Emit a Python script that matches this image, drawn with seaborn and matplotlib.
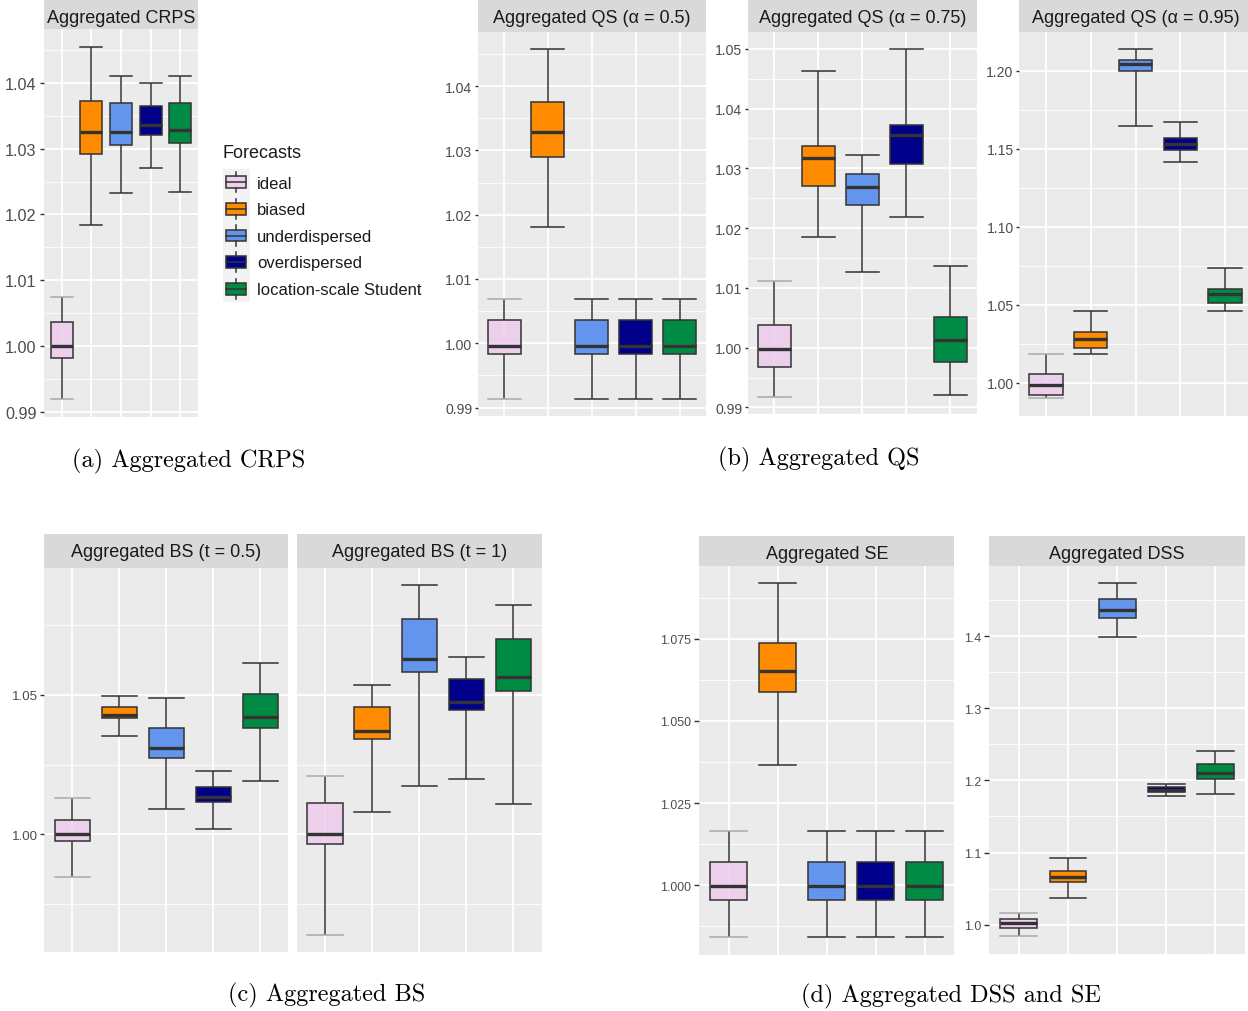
import numpy as np
import pandas as pd
import matplotlib
matplotlib.use("Agg")
import matplotlib.pyplot as plt
import seaborn as sns
from matplotlib.patches import Rectangle, Patch
from matplotlib.lines import Line2D
from matplotlib.legend_handler import HandlerBase
from matplotlib.ticker import MultipleLocator, FormatStrFormatter
from matplotlib.colors import to_rgba

plt.rcParams["font.family"] = ["Liberation Sans", "DejaVu Sans"]

forecasts = ["ideal", "biased", "underdispersed", "overdispersed", "location-scale Student"]
fill_colors = ["#ECC9EC", "#FF8C00", "#6495ED", "#00008B", "#008B45"]

# Five-number summaries per forecast:
# lower whisker, Q1, median, Q3, upper whisker
crps = [
    [0.9919, 0.9982, 1.0000, 1.0036, 1.0074],
    [1.0184, 1.0292, 1.0326, 1.0373, 1.0455],
    [1.0232, 1.0305, 1.0325, 1.0369, 1.0410],
    [1.0270, 1.0320, 1.0336, 1.0365, 1.0399],
    [1.0234, 1.0308, 1.0328, 1.0370, 1.0411],
]
qs_050 = [
    [0.9914, 0.9983, 0.9996, 1.0036, 1.0069],
    [1.0181, 1.0289, 1.0328, 1.0376, 1.0457],
    [0.9914, 0.9983, 0.9996, 1.0036, 1.0069],
    [0.9914, 0.9983, 0.9996, 1.0036, 1.0069],
    [0.9914, 0.9983, 0.9996, 1.0036, 1.0069],
]
qs_075 = [
    [0.9918, 0.9967, 0.9998, 1.0038, 1.0111],
    [1.0185, 1.0271, 1.0318, 1.0338, 1.0462],
    [1.0127, 1.0238, 1.0268, 1.0290, 1.0322],
    [1.0218, 1.0307, 1.0356, 1.0372, 1.0499],
    [0.9921, 0.9976, 1.0012, 1.0051, 1.0136],
]
qs_095 = [
    [0.9902, 0.9921, 0.9985, 1.0055, 1.0188],
    [1.0183, 1.0224, 1.0284, 1.0327, 1.0463],
    [1.1647, 1.1997, 1.2042, 1.2068, 1.2136],
    [1.1412, 1.1494, 1.1528, 1.1568, 1.1671],
    [1.0458, 1.0514, 1.0567, 1.0604, 1.0736],
]
bs_05 = [
    [0.9847, 0.9975, 1.0001, 1.0053, 1.0130],
    [1.0353, 1.0417, 1.0428, 1.0456, 1.0495],
    [1.0090, 1.0272, 1.0308, 1.0382, 1.0490],
    [1.0020, 1.0116, 1.0134, 1.0171, 1.0226],
    [1.0191, 1.0382, 1.0420, 1.0501, 1.0613],
]
bs_1 = [
    [0.9641, 0.9965, 1.0002, 1.0112, 1.0209],
    [1.0081, 1.0340, 1.0370, 1.0456, 1.0536],
    [1.0172, 1.0581, 1.0629, 1.0770, 1.0891],
    [1.0198, 1.0445, 1.0474, 1.0558, 1.0634],
    [1.0110, 1.0514, 1.0562, 1.0700, 1.0821],
]
se = [
    [0.9842, 0.9956, 0.9999, 1.0070, 1.0165],
    [1.0366, 1.0589, 1.0652, 1.0738, 1.0918],
    [0.9842, 0.9956, 0.9999, 1.0070, 1.0165],
    [0.9842, 0.9956, 0.9999, 1.0070, 1.0165],
    [0.9842, 0.9956, 0.9999, 1.0070, 1.0165],
]
dss = [
    [0.9838, 0.9958, 1.0028, 1.0074, 1.0162],
    [1.0370, 1.0591, 1.0656, 1.0744, 1.0919],
    [1.3991, 1.4254, 1.4360, 1.4513, 1.4730],
    [1.1788, 1.1839, 1.1871, 1.1908, 1.1949],
    [1.1815, 1.2023, 1.2106, 1.2226, 1.2402],
]

W, H = 1248, 1012
fig = plt.figure(figsize=(W / 100, H / 100), dpi=100)
fig.patch.set_facecolor("white")

EDGE = "#333333"
PANEL_BG = "#EBEBEB"
PT = 0.72  # points per pixel at 100 dpi


def px_axes(x0, y0, x1, y1):
    return fig.add_axes([x0 / W, 1 - y1 / H, (x1 - x0) / W, (y1 - y0) / H])


def strip(x0, y0, x1, y1, label, baseline):
    sax = px_axes(x0, y0, x1, y1)
    sax.set_facecolor("#D9D9D9")
    sax.set_xticks([])
    sax.set_yticks([])
    for s in sax.spines.values():
        s.set_visible(False)
    fig.text((x0 + x1) / 2 / W, 1 - baseline / H, label, ha="center",
             va="baseline", fontsize=13, color="#1A1A1A")


def padded_range(*groups):
    vals = np.concatenate([np.concatenate(g) for g in groups])
    lo, hi = vals.min(), vals.max()
    r = hi - lo
    return lo - 0.05 * r, hi + 0.05 * r


def draw_boxes(ax, summaries, ylim, major, fmt, labelsize, ticklen, pad,
               show_labels=True):
    df = pd.DataFrame({
        "forecast": np.repeat(forecasts, 5),
        "value": np.concatenate(summaries),
    })
    sns.boxplot(
        data=df, x="forecast", y="value", hue="forecast",
        order=forecasts, hue_order=forecasts,
        palette=dict(zip(forecasts, fill_colors)), saturation=1,
        width=0.75, whis=(0, 100), linewidth=1.1, linecolor=EDGE,
        fliersize=0, legend=False, capwidths=0.75,
        medianprops={"linewidth": 2.4}, ax=ax,
    )
    # the reference forecast is drawn semi-transparent with faint caps
    ax.patches[0].set_facecolor(to_rgba(fill_colors[0], 0.8))
    lo, hi = summaries[0][0], summaries[0][-1]
    for ln in ax.lines:
        x = np.asarray(ln.get_xdata(), float)
        y = np.asarray(ln.get_ydata(), float)
        if len(x) == 2 and y[0] == y[1] and abs(x.mean()) < 1e-6 and \
                (np.isclose(y[0], lo) or np.isclose(y[0], hi)):
            ln.set_color("#A9A9A9")

    ax.set_facecolor(PANEL_BG)
    for s in ax.spines.values():
        s.set_visible(False)
    ax.set_xlim(-0.6, 4.6)
    ax.set_ylim(*ylim)
    ax.yaxis.set_major_locator(MultipleLocator(major))
    ax.yaxis.set_minor_locator(MultipleLocator(major / 2))
    ax.yaxis.set_major_formatter(FormatStrFormatter(fmt))
    ax.grid(which="major", axis="both", color="white", lw=1.3)
    ax.grid(which="minor", axis="y", color="white", lw=0.6)
    ax.set_axisbelow(True)
    ax.tick_params(axis="x", length=0, labelbottom=False)
    ax.tick_params(axis="y", which="major", length=ticklen * PT, width=1.0,
                   color=EDGE, labelsize=labelsize, labelcolor="#4D4D4D",
                   pad=pad * PT, labelleft=show_labels)
    if not show_labels:
        ax.tick_params(axis="y", which="major", length=0)
    ax.tick_params(axis="y", which="minor", length=0)
    ax.set_xlabel("")
    ax.set_ylabel("")


# (a) CRPS
ax = px_axes(44, 30, 198, 418)
draw_boxes(ax, crps, padded_range(crps), 0.01, "%.2f", 11.7, 4.5, 3)
strip(44, -4, 198, 30, "Aggregated CRPS", 22.7)

# (b) quantile scores
ax = px_axes(477.7, 33, 706, 417)
draw_boxes(ax, qs_050, padded_range(qs_050), 0.01, "%.2f", 10.1, 3.5, 2)
strip(477.7, -4, 706, 33, "Aggregated QS (α = 0.5)", 22.7)

ax = px_axes(747.7, 33, 976.7, 415)
draw_boxes(ax, qs_075, padded_range(qs_075), 0.01, "%.2f", 10.1, 3.5, 2)
strip(747.7, -4, 976.7, 33, "Aggregated QS (α = 0.75)", 22.7)

ax = px_axes(1019, 33, 1252, 416.7)
draw_boxes(ax, qs_095, padded_range(qs_095), 0.05, "%.2f", 10.1, 3.5, 2)
strip(1019, -4, 1252, 33, "Aggregated QS (α = 0.95)", 22.7)

# (c) Brier scores, common y scale
bs_lim = padded_range(bs_05, bs_1)
ax = px_axes(44.3, 569, 288.3, 953.3)
draw_boxes(ax, bs_05, bs_lim, 0.05, "%.2f", 9.6, 4.5, 2)
strip(44.3, 535, 288.3, 569, "Aggregated BS (t = 0.5)", 557.3)

ax = px_axes(296.7, 569, 541.7, 953.3)
draw_boxes(ax, bs_1, bs_lim, 0.05, "%.2f", 9.6, 4.5, 2, show_labels=False)
strip(296.7, 535, 541.7, 569, "Aggregated BS (t = 1)", 557.3)

# (d) squared error and Dawid-Sebastiani score
ax = px_axes(699.3, 566.7, 954.3, 956)
draw_boxes(ax, se, padded_range(se), 0.025, "%.3f", 8.9, 5, 3)
strip(699.3, 537.3, 954.3, 566.7, "Aggregated SE", 559.3)

ax = px_axes(989.3, 566.7, 1245, 955)
draw_boxes(ax, dss, padded_range(dss), 0.1, "%.1f", 8.9, 5, 3)
strip(989.3, 537.3, 1245, 566.7, "Aggregated DSS", 559.3)


# legend with boxplot-shaped keys
class BoxKey(HandlerBase):
    def create_artists(self, legend, orig_handle, xdescent, ydescent,
                       width, height, fontsize, trans):
        x0, y0 = -xdescent, -ydescent
        fc = orig_handle.get_facecolor()
        cx = x0 + width / 2
        bg = Rectangle((x0, y0), width, height, facecolor="#F2F2F2",
                       edgecolor="none", transform=trans)
        box = Rectangle((x0 + 0.12 * width, y0 + 0.28 * height),
                        0.76 * width, 0.44 * height, facecolor=fc,
                        edgecolor=EDGE, lw=1.1, transform=trans)
        med = Line2D([x0 + 0.12 * width, x0 + 0.88 * width],
                     [y0 + 0.5 * height] * 2, color=EDGE, lw=1.1,
                     transform=trans)
        w_lo = Line2D([cx, cx], [y0 + 0.12 * height, y0 + 0.28 * height],
                      color=EDGE, lw=1.1, transform=trans)
        w_hi = Line2D([cx, cx], [y0 + 0.72 * height, y0 + 0.88 * height],
                      color=EDGE, lw=1.1, transform=trans)
        return [bg, box, med, w_lo, w_hi]


handles = [Patch(facecolor=to_rgba(c, 0.8 if i == 0 else 1.0))
           for i, c in enumerate(fill_colors)]
fig.text(223 / W, 1 - 154 / H, "Forecasts", fontsize=13, color="#1A1A1A",
         ha="left", va="center")
fig.legend(handles, forecasts, handler_map={Patch: BoxKey()},
           loc="upper left", bbox_to_anchor=(222.7 / W, 1 - 170 / H),
           frameon=False, borderpad=0, borderaxespad=0, labelspacing=0,
           handlelength=1.62, handleheight=2.08, handletextpad=0.45,
           fontsize=12, labelcolor="#1A1A1A")

# sub-captions
cap_kw = dict(fontfamily="cmr10", fontsize=17.5, ha="center", va="center",
              color="black")
fig.text(189 / W, 1 - 461 / H, "(a) Aggregated CRPS", **cap_kw)
fig.text(819 / W, 1 - 459 / H, "(b) Aggregated QS", **cap_kw)
fig.text(327 / W, 1 - 995 / H, "(c) Aggregated BS", **cap_kw)
fig.text(951 / W, 1 - 996 / H, "(d) Aggregated DSS and SE", **cap_kw)

fig.savefig("out.png", dpi=100, facecolor="white")
